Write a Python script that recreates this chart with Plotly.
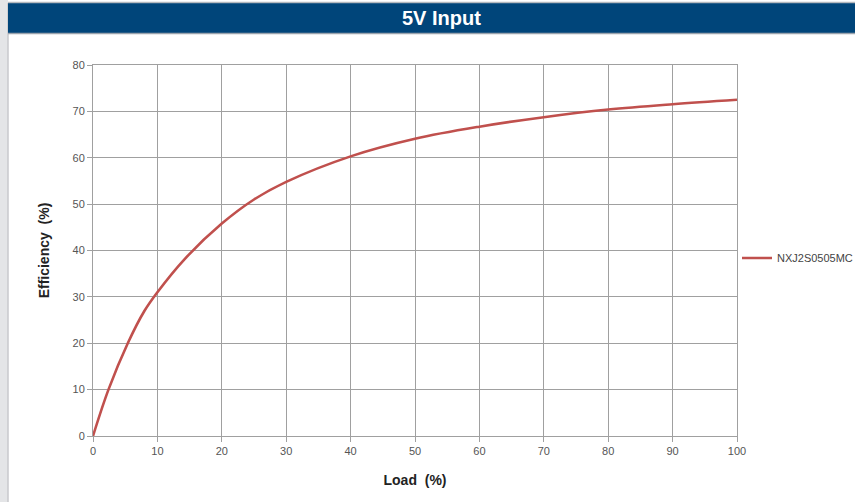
import plotly.graph_objects as go

load = [0, 2.4, 5.4, 8, 10, 14.2, 20, 25, 30, 40, 50, 60, 70, 80, 90, 100]
efficiency = [0, 10, 20, 27, 31, 38.1, 45.8, 51, 54.8, 60.3, 64.1, 66.7, 68.75, 70.4, 71.55, 72.5]
series_name = "NXJ2S0505MC"
title_text = "5V Input"

W, H = 855, 502
L, R, T, B = 93, 118, 65, 66
pw, ph = W - L - R, H - T - B

def px(X):
    return (X - L) / pw

def py(Y):
    return (H - B - Y) / ph

font = "Liberation Sans, Arial"

fig = go.Figure()
fig.add_trace(go.Scatter(x=load, y=efficiency, mode="lines", name=series_name,
                         line=dict(color="#c0504d", width=2.6, shape="spline", smoothing=1.0)))

fig.update_layout(
    width=W, height=H, autosize=False,
    margin=dict(l=L, r=R, t=T, b=B, autoexpand=False),
    paper_bgcolor="white", plot_bgcolor="white",
    font=dict(family=font, size=11, color="#555555"),
    showlegend=True,
    legend=dict(xref="container", yref="container", x=737 / W, y=1 - 258 / H,
                xanchor="left", yanchor="middle",
                font=dict(size=11, color="#444444"), bgcolor="rgba(0,0,0,0)"),
    xaxis=dict(range=[0, 100], dtick=10, showgrid=True, gridcolor="#a0a0a0", gridwidth=1,
               showline=True, linecolor="#a0a0a0", mirror=True, ticks="outside",
               ticklen=5, tickcolor="#a0a0a0", zeroline=False,
               title=dict(text="<b>Load  (%)</b>", font=dict(size=14, color="#222222"), standoff=18)),
    yaxis=dict(range=[0, 80], dtick=10, showgrid=True, gridcolor="#a0a0a0", gridwidth=1,
               showline=True, linecolor="#a0a0a0", mirror=True, ticks="outside",
               ticklen=5, tickcolor="#a0a0a0", zeroline=False,
               title=dict(text="<b>Efficiency  (%)</b>", font=dict(size=14, color="#222222"), standoff=19)),
)

# left gray strip
fig.add_shape(type="rect", xref="paper", yref="paper", x0=px(-2), x1=px(8), y0=py(H + 2), y1=py(-2),
              fillcolor="#e4e5e7", line=dict(width=0), layer="below")
fig.add_shape(type="line", xref="paper", yref="paper", x0=px(8), x1=px(8), y0=py(H + 2), y1=py(3),
              line=dict(color="#c8c9cc", width=1.5))
# title bar
fig.add_shape(type="rect", xref="paper", yref="paper", x0=px(8), x1=px(W + 2), y0=py(33), y1=py(3),
              fillcolor="#00457a", line=dict(width=0))
fig.add_shape(type="line", xref="paper", yref="paper", x0=px(8), x1=px(W + 2), y0=py(33.5), y1=py(33.5),
              line=dict(color="#9aa3ad", width=1.5))
fig.add_shape(type="line", xref="paper", yref="paper", x0=px(8), x1=px(W + 2), y0=py(2.5), y1=py(2.5),
              line=dict(color="#b5b9be", width=1.5))
fig.add_annotation(text="<b>" + title_text + "</b>", xref="paper", yref="paper", x=px(441), y=py(18),
                   showarrow=False, font=dict(family=font, size=20, color="white"),
                   xanchor="center", yanchor="middle")

post = ("document.body.style.margin='0';document.body.style.padding='0';"
        "document.body.style.overflow='hidden';"
        "Plotly.relayout('{plot_id}', {width: 855, height: 502});")
fig.write_html("out.html", post_script=post, config={"responsive": False, "displayModeBar": False})
